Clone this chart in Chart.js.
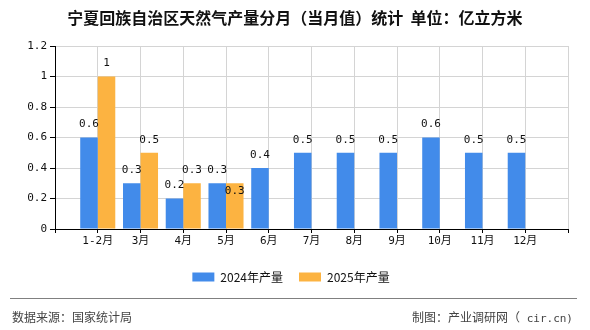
<!DOCTYPE html>
<html><head><meta charset="utf-8">
<script src="https://cdn.jsdelivr.net/npm/chart.js@4.4.1/dist/chart.umd.min.js"></script>
<style>
body{margin:0;background:#fff}
#wrap{position:relative;width:590px;height:330px;font-family:"Noto Sans CJK SC",sans-serif}
#ttl{position:absolute;left:0;top:6px;width:590px;text-align:center;font-weight:bold;font-size:16px;color:#111;line-height:22px;white-space:pre}
#rule{position:absolute;left:10px;top:298px;width:567px;border-top:1px solid #808080}
.src{position:absolute;top:308px;font-size:12px;color:#444;line-height:18px}
.mono{font-family:"DejaVu Sans Mono",monospace;font-size:11px}
canvas{position:absolute;left:0;top:0}
</style></head>
<body>
<div id="wrap">
  <canvas id="c" width="590" height="330"></canvas>
  <div id="ttl">宁夏回族自治区天然气产量分月（当月值）统计  单位：亿立方米</div>
  <div id="rule"></div>
  <div class="src" style="left:12px">数据来源：国家统计局</div>
  <div class="src" style="right:17px">制图：产业调研网（<span class="mono"> cir.cn)</span></div>
</div>
<script>
// months shown on the axis, values in 亿立方米
const MONTHS=['1-2月','3月','4月','5月','6月','7月','8月','9月','10月','11月','12月'];
const Y2024=[0.6,0.3,0.2,0.3,0.4,0.5,0.5,0.5,0.6,0.5,0.5];
const Y2025=[1,0.5,0.3,0.3,null,null,null,null,null,null,null];
const SERIES=['2024年产量','2025年产量'];
const Y_MIN=0, Y_MAX=1.2, Y_STEP=0.2;

const BLUE='#428bea', ORANGE='#fcb341', GRID='#d4d4d4', AXIS='#000';
const MONO='"DejaVu Sans Mono","Noto Sans CJK SC",monospace';

// empty slots at both ends: the axis runs one step past the first and last month
const labels=['',...MONTHS,''];
const pad=a=>[null,...a,null];

// value labels over the bars; a label that would collide with its neighbour goes inside the bar
const barLabels={
  id:'barLabels',
  afterDatasetsDraw(chart){
    const ctx=chart.ctx;
    ctx.save();
    ctx.font='11px '+MONO;
    ctx.fillStyle='#111';
    ctx.textAlign='center';ctx.textBaseline='middle';
    const placed=[];
    chart.data.datasets.forEach((ds,di)=>{
      chart.getDatasetMeta(di).data.forEach((bar,i)=>{
        const v=ds.data[i];
        if(v==null)return;
        const txt=String(v), w=ctx.measureText(txt).width, h=12;
        let y=bar.y-13;
        const hit=placed.some(p=>p.i===i&&Math.abs(p.x-bar.x)<(p.w+w)/2&&Math.abs(p.y-y)<h);
        if(hit)y=bar.y+8;
        placed.push({i,x:bar.x,y,w});
        ctx.fillText(txt,bar.x,y);
      });
    });
    ctx.restore();
  }
};

new Chart(document.getElementById('c'),{
  type:'bar',
  data:{labels,datasets:[
    {label:SERIES[0],data:pad(Y2024),backgroundColor:BLUE},
    {label:SERIES[1],data:pad(Y2025),backgroundColor:ORANGE}
  ]},
  options:{
    responsive:false,animation:false,
    layout:{padding:{left:14,right:22,top:46,bottom:37}},
    datasets:{bar:{categoryPercentage:0.82,barPercentage:1}},
    plugins:{
      legend:{position:'bottom',
        labels:{boxWidth:22,boxHeight:9,padding:16,color:'#111',
          font:{size:12,family:'"Noto Sans CJK SC",sans-serif'}}},
      tooltip:{enabled:false}
    },
    scales:{
      x:{offset:false,
        grid:{offset:false,color:GRID,tickColor:AXIS,tickLength:4},
        border:{color:AXIS},
        ticks:{color:'#111',padding:2,autoSkip:false,maxRotation:0,font:{size:11,family:MONO}},
        afterFit(s){s.height=26;}},
      y:{min:Y_MIN,max:Y_MAX,
        grid:{color:GRID,tickColor:AXIS,tickLength:5},
        border:{color:AXIS},
        ticks:{stepSize:Y_STEP,color:'#111',padding:3,font:{size:11,family:MONO},
          callback:v=>String(+v.toFixed(1))},
        afterFit(s){s.width=41;}}
    }
  },
  plugins:[barLabels]
});
</script>
</body></html>
